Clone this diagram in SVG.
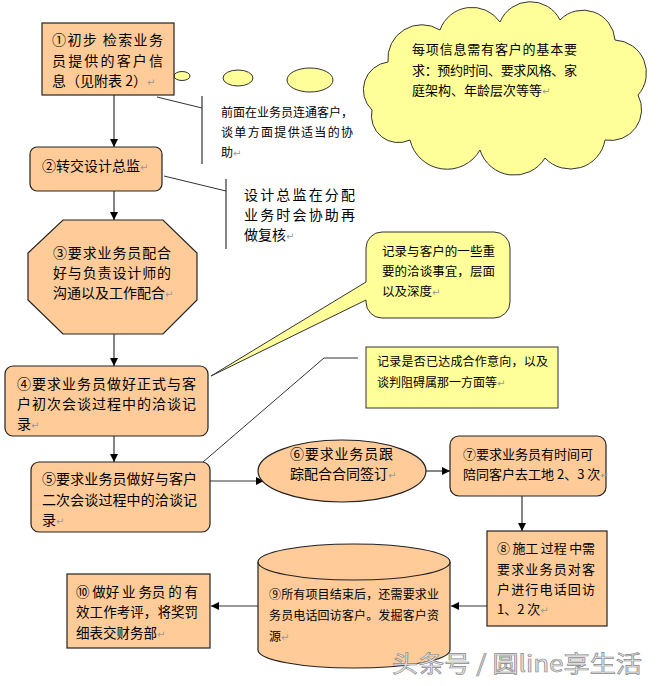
<svg xmlns="http://www.w3.org/2000/svg" width="658" height="686" viewBox="0 0 658 686">
<defs>
<marker id="ah" viewBox="0 0 10 10" refX="10" refY="5" markerWidth="8" markerHeight="8" markerUnits="userSpaceOnUse" orient="auto">
<path d="M0,0 L10,5 L0,10 Z" fill="#000"/>
</marker>
<style>
.n{fill:#FFCC99;stroke:#222;stroke-width:1.2}
.y{fill:#FFFF99;stroke:#333;stroke-width:1}
.t{font-family:"Noto Sans CJK SC","Liberation Sans",sans-serif;fill:#000}
.p{fill:#999;font-size:10px;font-family:"DejaVu Sans",sans-serif}
.c{stroke:#333;stroke-width:1.2;fill:none}
.a{stroke:#333;stroke-width:1.2;fill:none;marker-end:url(#ah)}
.l{stroke:#333;stroke-width:1;fill:none}
</style>
</defs>
<rect width="658" height="686" fill="#fff"/>

<g id="connectors">
<line class="a" x1="114" y1="95" x2="114" y2="147"/>
<line class="a" x1="114" y1="191" x2="114" y2="220"/>
<line class="a" x1="114" y1="334" x2="114" y2="366"/>
<line class="a" x1="114" y1="436" x2="114" y2="462"/>
<line class="a" x1="210" y1="481" x2="264" y2="481"/>
<line class="a" x1="426" y1="471" x2="450" y2="471"/>
<line class="a" x1="522" y1="496" x2="522" y2="531"/>
<line class="a" x1="487" y1="606" x2="451" y2="606"/>
<line class="a" x1="258" y1="606" x2="211" y2="606"/>
<polyline class="l" points="157,97 202,108"/>
<line class="c" x1="202" y1="96" x2="202" y2="164"/>
<polyline class="l" points="164,176 226,191"/>
<line class="c" x1="226" y1="179" x2="226" y2="249"/>
<polyline class="l" points="203,462 324,358 358,358"/>
</g>

<g id="thought-bubbles">
<ellipse class="y" cx="182" cy="76" rx="8" ry="4.5"/>
<ellipse class="y" cx="238" cy="78" rx="15" ry="8"/>
<ellipse class="y" cx="310" cy="80" rx="23" ry="12"/>
</g>

<g id="cloud">
<path class="y" d="M388,62 A34,34 0 0 1 440,30 A34,34 0 0 1 500,22 A33,33 0 0 1 560,20 A32,32 0 0 1 615,40 A33,33 0 0 1 638,95 A31,31 0 0 1 605,140 A35,35 0 0 1 545,158 A36,36 0 0 1 480,150 A38,38 0 0 1 410,140 A27,27 0 0 1 372,110 A28,28 0 0 1 388,62 Z"/>
<text class="t" font-size="13"><tspan x="412" y="54" textLength="165" lengthAdjust="spacing">每项信息需有客户的基本要</tspan><tspan x="412" y="75" textLength="165" lengthAdjust="spacing">求：预约时间、要求风格、家</tspan><tspan x="412" y="95">庭架构、年龄层次等等<tspan class="p">↵</tspan></tspan></text>
</g>

<g id="n1">
<rect class="n" x="42" y="23" width="132" height="72"/>
<text class="t" font-size="14"><tspan x="52" y="45" textLength="111" lengthAdjust="spacing">①初步 检索业务</tspan><tspan x="52" y="66" textLength="111" lengthAdjust="spacing">员提供的客户信</tspan><tspan x="52" y="86">息（见附表 2）<tspan class="p">↵</tspan></tspan></text>
</g>

<g id="note1">
<text class="t" font-size="12"><tspan x="221" y="117" textLength="132" lengthAdjust="spacing">前面在业务员连通客户，</tspan><tspan x="221" y="137" textLength="132" lengthAdjust="spacing">谈单方面提供适当的协</tspan><tspan x="221" y="157">助<tspan class="p">↵</tspan></tspan></text>
</g>

<g id="n2">
<rect class="n" x="30" y="147" width="132" height="44" rx="7"/>
<text class="t" font-size="14" x="42" y="171">②转交设计总监<tspan class="p">↵</tspan></text>
</g>

<g id="note2">
<text class="t" font-size="14"><tspan x="244" y="200" textLength="111" lengthAdjust="spacing">设计总监在分配</tspan><tspan x="244" y="220" textLength="111" lengthAdjust="spacing">业务时会协助再</tspan><tspan x="244" y="240">做复核<tspan class="p">↵</tspan></tspan></text>
</g>

<g id="n3">
<polygon class="n" points="63,220 163,220 197,253 197,300 163,334 63,334 28,300 28,253"/>
<text class="t" font-size="14"><tspan x="53" y="258" textLength="118" lengthAdjust="spacing">③要求业务员配合</tspan><tspan x="53" y="278" textLength="118" lengthAdjust="spacing">好与负责设计师的</tspan><tspan x="53" y="298" textLength="112" lengthAdjust="spacing">沟通以及工作配合</tspan><tspan class="p">↵</tspan></text>
</g>

<g id="note3">
<path class="y" d="M382,232 H494 A16,16 0 0 1 510,248 V302 A16,16 0 0 1 494,318 H382 A16,16 0 0 1 366,302 V300 L211,376 L366,282 V248 A16,16 0 0 1 382,232 Z"/>
<text class="t" font-size="12.5"><tspan x="382" y="256" textLength="113" lengthAdjust="spacing">记录与客户的一些重</tspan><tspan x="382" y="276" textLength="113" lengthAdjust="spacing">要的洽谈事宜，层面</tspan><tspan x="382" y="296">以及深度<tspan class="p">↵</tspan></tspan></text>
</g>

<g id="note4">
<rect class="y" x="366" y="347" width="192" height="61"/>
<text class="t" font-size="12"><tspan x="377" y="366" textLength="171" lengthAdjust="spacing">记录是否已达成合作意向，以及</tspan><tspan x="377" y="387">谈判阻碍属那一方面等<tspan class="p">↵</tspan></tspan></text>
</g>

<g id="n4">
<rect class="n" x="5" y="366" width="203" height="70" rx="8"/>
<text class="t" font-size="14"><tspan x="17" y="389" textLength="179" lengthAdjust="spacing">④要求业务员做好正式与客</tspan><tspan x="17" y="409" textLength="179" lengthAdjust="spacing">户初次会谈过程中的洽谈记</tspan><tspan x="17" y="429">录<tspan class="p">↵</tspan></tspan></text>
</g>

<g id="n5">
<rect class="n" x="31" y="462" width="179" height="70" rx="8"/>
<text class="t" font-size="14"><tspan x="42" y="484" textLength="155" lengthAdjust="spacing">⑤要求业务员做好与客户</tspan><tspan x="42" y="505" textLength="155" lengthAdjust="spacing">二次会谈过程中的洽谈记</tspan><tspan x="42" y="525">录<tspan class="p">↵</tspan></tspan></text>
</g>

<g id="n6">
<ellipse class="n" cx="342" cy="471" rx="84" ry="31"/>
<text class="t" font-size="14"><tspan x="290" y="459" textLength="103" lengthAdjust="spacing">⑥要求业务员跟</tspan><tspan x="290" y="479">踪配合合同签订<tspan class="p">↵</tspan></tspan></text>
</g>

<g id="n7">
<rect class="n" x="450" y="436" width="156" height="60" rx="9"/>
<text class="t" font-size="13"><tspan x="463" y="459" textLength="130" lengthAdjust="spacing">⑦要求业务员有时间可</tspan><tspan x="463" y="479">陪同客户去工地 2、3 次<tspan class="p">↵</tspan></tspan></text>
</g>

<g id="n8">
<rect class="n" x="487" y="531" width="120" height="95"/>
<text class="t" font-size="13"><tspan x="497" y="553" textLength="98" lengthAdjust="spacing">⑧ 施工 过程 中需</tspan><tspan x="497" y="574" textLength="98" lengthAdjust="spacing">要求业务员对客</tspan><tspan x="497" y="594" textLength="98" lengthAdjust="spacing">户进行电话回访</tspan><tspan x="497" y="614">1、2 次<tspan class="p">↵</tspan></tspan></text>
</g>

<g id="n9">
<path class="n" d="M258,562 V650 A96,18 0 0 0 450,650 V562"/>
<ellipse class="n" cx="354" cy="562" rx="96" ry="18"/>
<text class="t" font-size="12"><tspan x="269" y="599" textLength="170" lengthAdjust="spacing">⑨所有项目结束后，还需要求业</tspan><tspan x="269" y="620" textLength="170" lengthAdjust="spacing">务员电话回访客户。发掘客户资</tspan><tspan x="269" y="641">源<tspan class="p">↵</tspan></tspan></text>
</g>

<g id="n10">
<rect class="n" x="67" y="574" width="143" height="74"/>
<text class="t" font-size="13.5"><tspan x="76" y="597" textLength="122" lengthAdjust="spacing">⑩ 做好 业 务员 的 有</tspan><tspan x="76" y="617" textLength="122" lengthAdjust="spacing">效工作考评，将奖罚</tspan><tspan x="76" y="638">细表交财务部<tspan class="p">↵</tspan></tspan></text>
</g>

<text class="t" x="392" y="672" font-size="23" textLength="250" lengthAdjust="spacingAndGlyphs" style="fill:#e8e8e8;stroke:#8a8a8a;stroke-width:0.7">头条号 / 圆line享生活</text>
</svg>
